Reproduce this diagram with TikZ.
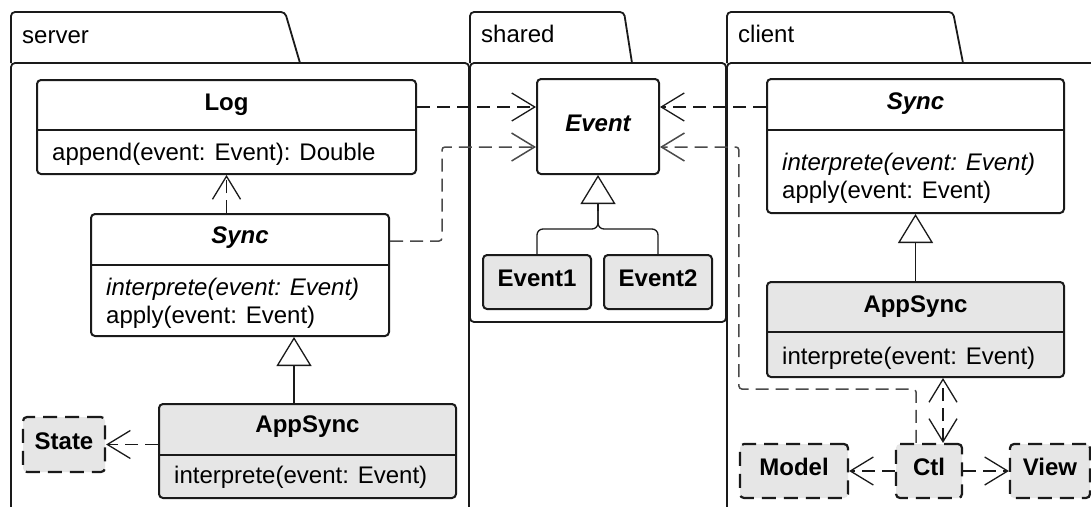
\documentclass[tikz,border=0pt]{standalone}
\usepackage{fontspec}
\setmainfont{Liberation Sans}
\usetikzlibrary{arrows.meta,calc}
\definecolor{boxgray}{HTML}{E6E6E6}
\definecolor{ink}{HTML}{1A1A1A}
\definecolor{softink}{HTML}{4A4A4A}
\tikzset{
  pkg/.style={draw=ink, line width=1.8pt, rounded corners=4pt},
  cls/.style={draw=ink, line width=2pt, rounded corners=4pt, fill=white, inner sep=0pt},
  gcls/.style={cls, fill=boxgray},
  dcls/.style={gcls, line width=2.2pt, dash pattern=on 14pt off 8pt},
  small/.style={font=\fontsize{24}{28}\selectfont\bfseries, text height=17pt, text depth=8pt},
  divider/.style={draw=ink, line width=2pt},
  ttl/.style={font=\fontsize{24}{28}\selectfont\bfseries, anchor=base, inner sep=0pt},
  ttli/.style={font=\fontsize{24}{28}\selectfont\bfseries\itshape, anchor=base, inner sep=0pt},
  mth/.style={font=\fontsize{24}{28}\selectfont, anchor=base west, inner sep=0pt},
  mthi/.style={font=\fontsize{24}{28}\selectfont\itshape, anchor=base west, inner sep=0pt},
  pkglabel/.style={font=\fontsize{24}{28}\selectfont, anchor=base west, inner sep=0pt},
  dep/.style={draw=ink, line width=1.3pt, dash pattern=on 13pt off 7pt,
    -{Straight Barb[length=23pt,width=28pt]}},
  softdep/.style={dep, draw=softink, line width=1.5pt},
  depboth/.style={draw=ink, line width=1.3pt, dash pattern=on 13pt off 7pt,
    {Straight Barb[length=23pt,width=28pt]}-{Straight Barb[length=23pt,width=28pt]}},
  inh/.style={draw=ink, line width=1.3pt, -{Triangle[open,length=29pt,width=35pt]}},
  conn/.style={draw=ink, line width=1.3pt},
}
\begin{document}
\begin{tikzpicture}[x=1pt,y=-1pt]
\useasboundingbox (0,0) rectangle (1091,506);
\clip (0,0) rectangle (1091,506);
\fill[white] (0,0) rectangle (1091,506);

% ---------- packages ----------
\draw[pkg] (11,63) |- (285,12) -- (300,63);
\draw[pkg] (11,530) -- (11,63) -- (469,63) -- (469,530);
\node[pkglabel] (pserver) at (22,43) {server};

\draw[pkg] (470,63) |- (624,12) -- (632,63);
\draw[pkg] (470,63) rectangle (726,322);
\node[pkglabel] (pshared) at (481,42) {shared};

\draw[pkg] (727,63) |- (953,12) -- (963,63);
\draw[pkg] (727,530) -- (727,63) -- (1100,63);
\node[pkglabel] (pclient) at (738,42) {client};

% ---------- server ----------
\node[cls, minimum width=379pt, minimum height=94pt] (log) at (226.5,127) {};
\draw[divider] ($(log.north west)+(0,51)$) -- ($(log.north east)+(0,51)$);
\node[ttl] (logt) at ($(log.north)+(0,31)$) {Log};
\node[mth] (logm) at ($(log.north west)+(16,81)$) {append(event: Event): Double};

\node[cls, minimum width=298pt, minimum height=122pt] (ssync) at (240,275) {};
\draw[divider] ($(ssync.north west)+(0,52)$) -- ($(ssync.north east)+(0,52)$);
\node[ttli] (ssynct) at ($(ssync.north)+(0,30)$) {Sync};
\node[mthi] (ssyncm1) at ($(ssync.north west)+(16,82)$) {interprete(event: Event)};
\node[mth] (ssyncm2) at ($(ssync.north west)+(16,110)$) {apply(event: Event)};

\node[gcls, minimum width=297pt, minimum height=94pt] (sapp) at (307.5,451) {};
\draw[divider] ($(sapp.north west)+(0,52)$) -- ($(sapp.north east)+(0,52)$);
\node[ttl] (sappt) at ($(sapp.north)+(0,29)$) {AppSync};
\node[mth] (sappm) at ($(sapp.north west)+(16,80)$) {interprete(event: Event)};

\node[dcls, small, minimum width=82pt, minimum height=55pt] (state) at (64,444.5) {State};

% ---------- shared ----------
\node[cls, small, font=\fontsize{24}{28}\selectfont\bfseries\itshape, minimum width=122pt, minimum height=95pt] (event) at (598,126.5) {Event};
\node[gcls, small, minimum width=108pt, minimum height=54pt] (e1) at (537,282) {Event1};
\node[gcls, small, minimum width=108pt, minimum height=54pt] (e2) at (658,282) {Event2};

% ---------- client ----------
\node[cls, minimum width=297pt, minimum height=134pt] (csync) at (915.5,146) {};
\draw[divider] ($(csync.north west)+(0,52)$) -- ($(csync.north east)+(0,52)$);
\node[ttli] (csynct) at ($(csync.north)+(0,31)$) {Sync};
\node[mthi] (csyncm1) at ($(csync.north west)+(16,92)$) {interprete(event: Event)};
\node[mth] (csyncm2) at ($(csync.north west)+(16,120)$) {apply(event: Event)};

\node[gcls, minimum width=297pt, minimum height=95pt] (capp) at (915.5,329.5) {};
\draw[divider] ($(capp.north west)+(0,51)$) -- ($(capp.north east)+(0,51)$);
\node[ttl] (cappt) at ($(capp.north)+(0,31)$) {AppSync};
\node[mth] (cappm) at ($(capp.north west)+(16,83)$) {interprete(event: Event)};

\node[dcls, small, minimum width=108pt, minimum height=54pt] (model) at (794,471) {Model};
\node[dcls, small, minimum width=66pt, minimum height=54pt] (ctl) at (929,471) {Ctl};
\node[dcls, small, minimum width=80pt, minimum height=54pt] (view) at (1050,471) {View};

% ---------- connectors ----------
% server
\draw[dep] (ssync.north -| log.south) -- (log.south);
\draw[inh] ($(sapp.north)+(-13.5,0)$) coordinate (sappup) -- (sappup |- ssync.south);
\draw[dep] (sapp.west |- state.east) -- (state.east);
\draw[dep] ($(log.east)+(0,-20)$) coordinate (logout) -- (logout -| event.west);
\draw[softdep, rounded corners=3pt] ($(ssync.east)+(0,-34)$) -| ($(event.west)+(-94,20.5)$) -- ($(event.west)+(0,20.5)$);

% shared
\coordinate (ejoin) at ($(event.south)+(0,54)$);
\coordinate (etop) at ($(event.south)+(0,36)$);
\draw[conn, rounded corners=6pt] (e1.north) |- (ejoin) -- (etop);
\draw[conn, rounded corners=6pt] (e2.north) |- (ejoin) -- (etop);
\draw[inh] (etop) -- (event.south);

% client
\draw[dep] ($(csync.west)+(0,-39)$) coordinate (csout) -- (csout -| event.east);
\draw[inh] (capp.north) -- (csync.south);
\draw[softdep, rounded corners=3pt] ($(ctl.north)+(-13,0)$) |- ($(model.west)+(0,-82)$) |- ($(event.east)+(0,20.5)$);
\draw[depboth] ($(ctl.north)+(14,0)$) coordinate (ctlup) -- (ctlup |- capp.south);
\draw[dep] (ctl.west) -- (model.east);
\draw[dep] (ctl.east) -- (view.west);
\end{tikzpicture}
\end{document}
